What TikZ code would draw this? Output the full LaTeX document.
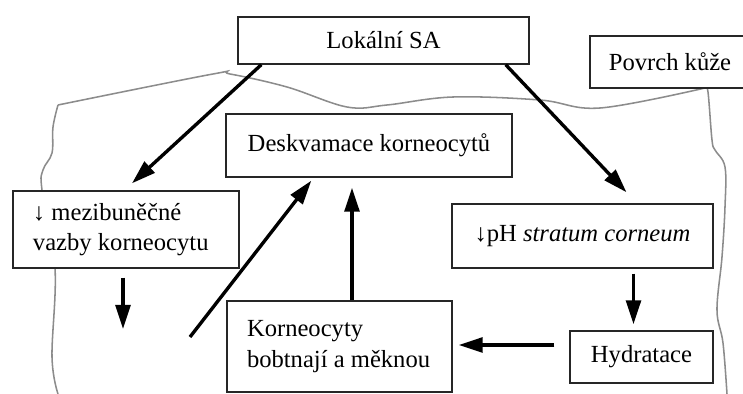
\documentclass[tikz,border=0pt]{standalone}
\usepackage{fontspec}
\setmainfont{Liberation Serif}
\usepackage{xcolor}
\definecolor{SkinGray}{RGB}{140,140,140}
\usetikzlibrary{backgrounds, positioning, arrows.meta, calc}

\begin{document}
\begin{tikzpicture}[font=\fontsize{17.5}{21.5}\selectfont]
    \tikzset{
        effectbox/.style={rectangle, draw=black!85, line width=1pt, fill=white,
            inner sep=0pt, align=center},
        leftbox/.style={rectangle, draw=black!85, line width=1pt, fill=white,
            inner xsep=0.5cm, inner ysep=0pt, align=flush left},
        flow/.style={line width=2.4pt, -{Triangle[length=6mm,width=3.7mm]}},
        skin/.style={draw=SkinGray, line width=1.1pt}
    }
    \useasboundingbox (0,0) rectangle (18.575,-9.85);
    \node[effectbox, minimum width=7.275cm, minimum height=1.175cm] (lokal) at (9.5875,-1.0125) {Lokální SA};
    \node[effectbox, minimum width=4cm, minimum height=1.3cm] (povrch) at (16.75,-1.55) {Povrch kůže};
    \node[effectbox, minimum width=7.15cm, minimum height=1.575cm] (deskv) at (9.225,-3.6375) {Deskvamace korneocytů};
    \node[leftbox, text width=4.65cm, minimum height=1.925cm] (mezi) at (3.15,-5.7375) {↓ mezibuněčné\\vazby korneocytu};
    \node[effectbox, minimum width=6.525cm, minimum height=1.6cm] (ph) at (14.5625,-5.9) {↓pH \textit{stratum corneum}};
    \node[effectbox, minimum width=3.575cm, minimum height=1.3cm] (hydr) at (16.0375,-8.925) {Hydratace};
    \node[leftbox, text width=4.625cm, minimum height=2.275cm] (korn) at (8.4875,-8.6625) {Korneocyty\\bobtnají a měknou};
    \coordinate (mezigap) at (3.075,-8.225);
    \coordinate (diagstart) at (4.75,-8.425);
    \coordinate (kornup) at ([xshift=0.3125cm]korn.north);
    \coordinate (hydrin) at ([xshift=-0.2cm]hydr.north);
    \coordinate (hydrout) at ([yshift=0.3cm]hydr.west);
    \draw[flow] ([xshift=0.6cm]lokal.south west) -- ([xshift=0.15cm,yshift=0.175cm]mezi.north);
    \draw[flow] ([xshift=-0.6cm]lokal.south east) -- ([xshift=1.1cm,yshift=0.275cm]ph.north);
    \draw[flow] ([xshift=-0.075cm,yshift=-0.225cm]mezi.south) -- (mezigap);
    \draw[flow] (diagstart) -- ([xshift=2.15cm,yshift=-0.075cm]deskv.south west);
    \draw[flow, shorten >=0.25cm] (kornup) -- (kornup |- deskv.south);
    \draw[flow, shorten <=0.125cm, shorten >=0.15cm] (hydrin |- ph.south) -- (hydrin);
    \draw[flow, shorten <=0.375cm, shorten >=0.15cm] (hydrout) -- (hydrout -| korn.east);
    % skin outline behind the boxes
    \begin{scope}[on background layer]
        \draw[skin] plot[smooth, tension=0.6] coordinates {(1.45,-9.85) (1.3,-8.925)
            (1.375,-6.7) (1.05,-4.75) (1.075,-4.25) (1.3,-3.825) (1.325,-3.175) (1.45,-2.625)};
        \draw[skin] plot[smooth, tension=0.6] coordinates {(1.45,-2.625) (5.325,-1.85)
            (5.75,-1.85) (7.175,-2.175) (8.675,-2.675) (9.675,-2.625) (11.325,-2.425)
            (13.5,-2.5) (15,-2.7) (17.625,-2.2)};
        \draw[skin] plot[smooth, tension=0.6] coordinates {(17.625,-2.2) (17.7,-2.3)
            (17.8,-3.5) (17.875,-3.75) (18.125,-4.175) (18.125,-5.175) (18.05,-6.425)
            (17.925,-7.75) (18.075,-8.575) (18.175,-9.85)};
    \end{scope}
\end{tikzpicture}
\end{document}
